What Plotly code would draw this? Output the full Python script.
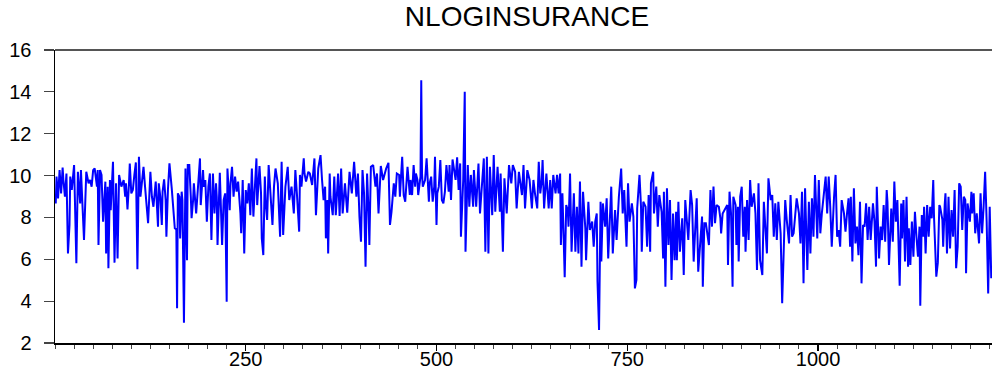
import plotly.graph_objects as go

title_text = "NLOGINSURANCE"
x_tick_vals = [250, 500, 750, 1000]
y_tick_vals = [2, 4, 6, 8, 10, 12, 14, 16]

obs_a = [1,2,4,6,8,10,11,13,15,17,19,20,22,25,26,28,30,33,34,36,38,41,44,46,48,50,52,55,56,57,59,61,63,66,67,69,70,72,73,76,78,80,82,84]
val_a = [8.67,9.95,8.91,10.26,9.15,10.38,9.79,8.99,10.10,6.28,7.64,9.95,9.31,10.50,8.99,5.81,10.18,8.67,10.26,8.35,6.92,10.18,9.63,9.79,9.47,10.26,10.34,9.47,10.26,6.68,10.26,10.03,7.80,9.71,6.28,9.47,5.57,9.79,8.35,10.66,5.84,9.63,6.04,10.03]

obs_b = [87,90,92,93,95,97,98,100,102,104,106,108,110,112,114,116,118,120,122,125,127,129,131,132,135,136,138,140,141,143,145,146,148,150]
val_b = [9.47,9.79,8.99,9.63,8.38,9.63,10.58,9.15,9.31,10.03,10.63,5.52,10.90,8.99,9.79,10.42,9.47,8.43,7.72,10.18,8.99,8.51,9.39,9.71,7.56,9.63,8.99,7.64,9.23,9.82,8.83,7.08,9.31,10.58]

obs_c = [153,155,157,159,160,161,163,164,166,167,169,171,173,174,176,178,179,181,182,185,187,188,190,191,194,195,197,199,201,203,205,207,209,211,212,213,215,216,219,221,223,225,226,229,230,232,234,236,238,240,243,244,246,248,250,252,254,256,258,260,262,264,265,268,270,271,273,275,276,278,280,283,285,287,289,292,293,295,297,299,302,305,307]
val_c = [9.39,8.43,7.48,7.43,3.66,9.15,8.99,7.00,9.23,8.83,2.97,10.34,5.96,10.50,10.50,8.99,7.96,8.83,9.63,8.19,9.31,9.95,10.82,8.59,10.26,9.47,9.79,7.80,9.47,10.10,6.92,10.10,8.19,9.63,8.99,6.68,9.15,10.13,6.68,8.83,9.15,3.97,10.34,8.35,9.63,10.42,8.99,9.95,9.23,9.71,8.19,7.24,9.79,6.28,9.31,8.67,9.63,8.11,10.34,8.04,9.47,10.82,8.59,10.46,9.15,7.00,6.20,9.95,8.83,7.88,10.50,8.99,7.64,9.47,10.34,9.63,8.83,7.08,10.66,7.16,9.47,10.42,8.83]

obs_d = [310,313,315,317,320,321,323,326,327,329,332,334,337,340,342,345,348,350,352,354,355,357,358,360,361,364,366,368,371,373,375,377,380,383,386,389,392,395,397,399,401,403,405,407,409,411,412,414,417,420,422,424,427,430,434,437,439,441,444,446,448,451,452,455,457,459,462,465]
val_d = [9.47,8.19,10.26,9.15,7.32,10.03,9.47,10.82,10.10,9.71,10.18,10.10,9.55,10.82,8.11,10.34,10.98,9.79,8.83,9.47,7.00,8.83,6.28,10.10,8.99,8.11,9.95,8.11,10.10,8.07,10.34,8.19,9.63,8.23,10.18,9.15,10.66,8.99,10.10,8.04,6.84,10.26,9.15,5.65,10.10,8.19,6.68,10.42,10.50,9.47,10.10,8.19,10.46,9.79,10.34,10.61,7.64,8.27,9.63,8.99,10.10,10.03,8.99,10.90,9.07,8.75,10.42,9.07]

obs_e = [466,468,470,472,473,475,476,479,480,481,482,485,487,490,491,493,495,497,498,500,501,503,505,507,509,511,513,516,517,519,521,525,527,529,531,532,535,537,538,541,543,545,548,549,552,555,557,560,562,564,566,568,570,573,575,577,580,583,584,587,589,592,595,598,600,603,605,608,612,614,616,619,622]
val_e = [9.79,9.07,10.50,9.47,10.10,9.79,9.07,9.95,14.56,10.10,9.47,9.79,10.82,8.75,9.63,9.95,8.75,9.47,10.90,7.64,9.15,9.47,10.74,8.83,8.67,9.23,10.50,9.23,10.50,8.83,10.77,9.79,10.87,9.31,10.58,7.08,9.79,14.00,6.36,10.50,8.51,10.03,8.51,10.26,8.51,10.58,8.19,9.79,10.82,6.36,10.90,6.28,10.42,8.11,10.98,8.27,10.42,8.27,10.10,6.36,9.87,8.19,10.50,9.63,10.50,10.18,8.43,10.18,9.07,10.50,8.43,10.26,9.79]

obs_f = [625,627,629,632,634,636,638,639,641,644,647,649,651,653,656,658,660,662,663,665,666,668,670,672,673,675,677,680,682,684,686,688,690,692,695,696,699,701,704,706,708,710,711,713,715,716,718,721,723,725,729,731,734,736,739,742,744,746,749,751,753,756,758,760,762,763,766,768,769,771,774,776,778]
val_f = [8.43,9.79,9.15,8.43,10.66,9.15,9.79,10.74,8.43,10.10,8.43,9.79,8.43,10.03,9.15,10.03,9.15,10.10,6.68,9.15,7.88,5.14,8.59,8.35,7.56,10.10,6.36,9.15,6.36,8.51,6.28,9.71,5.65,9.23,7.48,5.96,8.75,7.40,7.80,6.60,7.80,8.19,4.93,2.62,8.75,5.89,8.67,7.56,8.91,6.04,9.47,6.28,8.35,6.92,8.99,10.34,8.19,9.31,6.60,9.63,7.80,8.67,8.04,4.61,5.01,8.43,10.03,8.51,6.36,8.75,8.51,6.60,9.07]

obs_g = [780,781,784,785,788,790,792,795,797,798,800,802,804,806,808,810,812,814,815,817,819,822,824,826,828,830,833,835,837,839,841,843,846,848,849,851,853,855,857,859,861,863,865,867,870,872,873,875,878,881,882,884,886,888,889,892,893,895,896,898,900,902,904,905,907,909,911,913,916,918,920,922,924,927,929,931,933,935]
val_g = [6.36,9.63,10.18,8.19,9.47,7.56,9.07,8.27,6.04,9.23,4.69,9.39,6.68,8.83,5.01,8.19,5.96,8.27,5.96,8.75,6.36,7.96,5.25,8.83,8.04,6.92,9.31,8.59,5.89,7.88,8.91,5.41,7.32,8.04,4.69,7.72,7.72,7.24,6.68,9.31,7.56,9.47,7.72,8.59,8.51,7.96,7.24,8.19,8.43,8.59,5.73,9.23,8.19,4.69,8.99,8.59,6.68,8.51,5.89,8.99,9.47,7.08,8.51,6.36,8.83,6.92,9.79,8.51,9.15,8.19,5.49,9.63,5.96,5.25,8.75,7.24,6.28,9.87]

obs_h = [938,940,942,944,946,948,951,953,955,957,959,962,964,966,968,970,972,975,977,979,981,983,986,988,990,992,994,996,999,1001,1003,1005,1007,1010,1012,1014,1016,1018,1021,1023,1025,1027,1029,1031,1034,1036,1038,1040,1042,1043,1045,1047,1049,1051,1053,1055,1057,1059,1061,1063,1065,1067,1069,1072,1074,1076,1077,1080]
val_h = [8.83,9.07,7.08,8.67,6.92,8.75,7.24,3.90,6.60,8.83,7.88,6.76,9.07,7.08,7.24,8.27,8.91,8.19,6.76,9.23,4.85,9.39,5.49,8.75,6.28,8.91,7.08,10.03,7.00,9.79,7.24,8.19,8.91,9.95,8.19,9.95,8.51,6.60,8.99,10.03,7.08,7.40,6.60,8.83,8.19,7.32,8.19,8.91,6.60,8.99,5.89,9.39,6.76,7.56,6.20,8.75,4.85,7.64,7.56,8.67,6.92,8.51,6.92,8.67,7.80,5.65,9.47,6.04]

obs_i = [1082,1084,1086,1088,1090,1091,1093,1096,1098,1100,1102,1104,1107,1109,1110,1112,1114,1116,1118,1119,1121,1123,1125,1127,1129,1131,1133,1134,1136,1138,1139,1141,1143,1145,1147,1149,1151,1152,1155,1157,1159,1160,1163,1164,1166,1167,1169,1171,1173,1175,1177,1179,1181,1183,1185,1187,1189,1191,1193,1194,1196,1199,1201,1202,1204,1206,1208,1211,1213,1215,1217,1219,1221,1223,1225,1227]
val_i = [7.56,6.92,8.59,6.84,9.31,8.75,5.73,8.43,6.84,9.71,7.80,8.83,4.74,8.67,7.00,8.83,5.89,8.99,5.65,7.48,5.73,7.80,6.12,8.27,7.08,6.12,7.56,3.78,8.11,7.08,8.51,6.28,8.59,7.08,8.51,7.96,9.79,8.04,5.17,5.84,8.59,8.51,7.88,6.60,8.59,9.15,6.28,8.99,6.52,8.35,7.08,9.31,5.57,6.60,9.63,9.47,7.40,8.99,8.83,5.33,8.67,7.80,9.23,8.19,9.15,7.24,8.19,6.76,9.15,7.24,8.51,10.18,7.80,4.37,8.51,5.09]

obs_parts = [obs_a, obs_b, obs_c, obs_d, obs_e, obs_f, obs_g, obs_h, obs_i]
val_parts = [val_a, val_b, val_c, val_d, val_e, val_f, val_g, val_h, val_i]
for o, v in zip(obs_parts, val_parts):
    assert len(o) == len(v), (len(o), len(v), o[0])

obs = [x for part in obs_parts for x in part]
nlog = [y for part in val_parts for y in part]

FONT = "Liberation Sans, Arial, sans-serif"

fig = go.Figure(
    go.Scatter(
        x=obs, y=nlog, mode="lines",
        line=dict(color="#0000FF", width=2),
        hoverinfo="skip",
    )
)

fig.update_layout(
    width=992, height=371,
    margin=dict(l=55, r=0, t=50, b=28, autoexpand=False),
    paper_bgcolor="white", plot_bgcolor="white",
    showlegend=False,
    title=dict(
        text=title_text, x=527 / 992, xanchor="center",
        y=1 - 16 / 371, yanchor="middle",
        font=dict(family=FONT, size=28, color="black"),
    ),
    font=dict(family=FONT, size=20, color="black"),
    shapes=[dict(
        type="line", xref="paper", yref="paper", x0=0, x1=1, y0=1, y1=1,
        line=dict(color="#555555", width=2), layer="above",
    )],
)

fig.update_xaxes(
    range=[0, 1228], tickvals=x_tick_vals, ticktext=[str(v) for v in x_tick_vals],
    ticks="outside", ticklen=6, tickwidth=1.2, tickcolor="black",
    minor=dict(dtick=25, tick0=0, ticks="outside", ticklen=4, tickwidth=1, tickcolor="#444"),
    showline=True, linecolor="black", linewidth=1.5,
    showgrid=False, zeroline=False, ticklabelstandoff=-9,
    tickfont=dict(family=FONT, size=20, color="black"),
)
fig.update_yaxes(
    range=[2, 16], tickvals=y_tick_vals,
    ticks="outside", ticklen=10, tickwidth=1.2, tickcolor="#444",
    showline=True, linecolor="black", linewidth=1.5,
    showgrid=False, zeroline=False, ticklabelstandoff=8,
    tickfont=dict(family=FONT, size=20, color="black"),
)

fig.write_html(
    "out.html",
    config={"displayModeBar": False, "staticPlot": True},
    post_script="document.body.style.margin='0';document.body.style.overflow='hidden';",
)
